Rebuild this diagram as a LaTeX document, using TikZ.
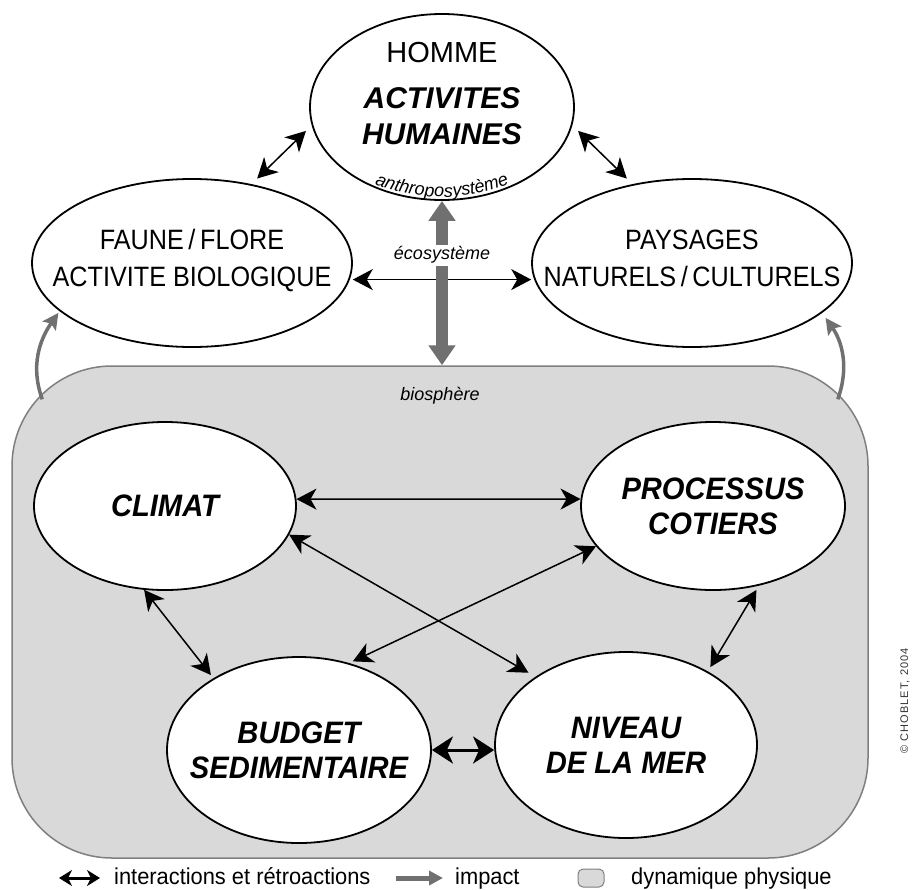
\documentclass[tikz,border=0pt]{standalone}
\usepackage{fontspec}
\setmainfont{Liberation Sans}
\newfontfamily\NarrowFont[FakeStretch=0.9]{Liberation Sans}
\newfontfamily\CondFont[FakeStretch=0.94]{Liberation Sans}
\newfontfamily\LegendFont[FakeStretch=0.95]{Liberation Sans}
\newfontfamily\CopyFont[LetterSpace=10]{Liberation Sans}
\usetikzlibrary{positioning,shapes.geometric,arrows.meta,decorations.text}
\definecolor{BioGray}{HTML}{D9D9D9}
\definecolor{ImpactGray}{HTML}{707070}
\definecolor{BorderGray}{HTML}{7F7F7F}
\tikzstyle{EllipseNode}=[ellipse, draw=black, line width=1.8pt, fill=white, inner sep=-50pt, align=center]
\tikzstyle{OuterText}=[font=\NarrowFont\fontsize{28}{37}\selectfont]
\tikzstyle{InnerText}=[font=\CondFont\fontsize{31}{35}\selectfont\bfseries\itshape]
\tikzstyle{SmallItalic}=[font=\fontsize{18}{20}\selectfont\itshape]
\tikzstyle{InterArrow}=[line width=1.5pt, >={Stealth[length=20pt,width=21pt,inset=6pt]}, <->]
\tikzstyle{ThickInterArrow}=[line width=3pt, >={Stealth[length=21pt,width=27pt,inset=6pt]}, <->]
\tikzstyle{ImpactArrow}=[draw=ImpactGray, line width=12pt, >={Triangle[length=20pt,width=26pt]}]
\tikzstyle{CurveArrow}=[draw=ImpactGray, line width=3.5pt, ->, >={Stealth[length=16pt,width=16pt,inset=3pt]}]
\tikzstyle{LegendText}=[font=\LegendFont\fontsize{23}{23}\selectfont, anchor=base west, inner sep=0pt]

\begin{document}
\begin{tikzpicture}[x=1pt, y=1pt]

    \useasboundingbox (0,0) rectangle (920,-889);

    % biosphere (dynamique physique)
    \node (Biosphere) [draw=BorderGray, line width=1.5pt, fill=BioGray, rounded corners=100pt, minimum width=856pt, minimum height=492pt] at (440,-612) {};
    \node (BioLabel) [SmallItalic, below=18pt of Biosphere.north] {biosphère};

    \node (Climat) [EllipseNode, InnerText, minimum width=262pt, minimum height=168pt] at (165,-506) {CLIMAT};
    \node (Processus) [EllipseNode, InnerText, minimum width=264pt, minimum height=168pt] at (713,-506) {PROCESSUS\\COTIERS};
    \node (Budget) [EllipseNode, InnerText, minimum width=264pt, minimum height=186pt] at (299,-750) {BUDGET\\SEDIMENTAIRE};
    \node (Niveau) [EllipseNode, InnerText, minimum width=262pt, minimum height=186pt] at (626,-745) {NIVEAU\\DE LA MER};

    % anthroposysteme / ecosysteme
    \node (Homme) [EllipseNode, minimum width=264pt, minimum height=186pt, text depth=28pt, font=\fontsize{30}{36}\selectfont] at (442,-107)
    {{\fontsize{29}{36}\selectfont HOMME}\\[10pt]{\bfseries\itshape ACTIVITES}\\{\bfseries\itshape HUMAINES}};
    \node (FauneFlore) [EllipseNode, OuterText, minimum width=320pt, minimum height=168pt, text depth=10pt] at (192,-263) {FAUNE\,/\,FLORE\\ACTIVITE BIOLOGIQUE};
    \node (Paysages) [EllipseNode, OuterText, minimum width=320pt, minimum height=168pt, text depth=10pt] at (692,-263) {PAYSAGES\\NATURELS\,/\,CULTURELS};

    \path[decorate, decoration={text along path, text align=center, text={|\fontsize{18}{20}\selectfont\itshape|anthroposystème}}]
      ([shift={(235:130 and 90)}]Homme.center) arc[start angle=235, end angle=305, x radius=130, y radius=90];

    \draw[InterArrow, shorten <=8pt, shorten >=8pt] (FauneFlore.53) -- (Homme.188);
    \draw[InterArrow, shorten <=8pt, shorten >=8pt] (Homme.-8) -- (Paysages.127);
    \draw[InterArrow, shorten <=3pt, shorten >=3pt] (FauneFlore.-6) -- (Paysages.186);
    \draw[ImpactArrow, <->] (Homme.south) -- (Homme.south |- Biosphere.north)
      node (EcoLabel) [pos=0.33, fill=white, SmallItalic, inner sep=2pt] {écosystème};

    \coordinate (BioCornerL) at ([shift={(31,-34)}]Biosphere.north west);
    \coordinate (BioCornerR) at ([shift={(-31,-34)}]Biosphere.north east);
    \draw[CurveArrow, shorten >=2pt] (BioCornerL) to[out=110, in=235] (FauneFlore.200);
    \draw[CurveArrow, shorten >=6pt] (BioCornerR) to[out=70, in=-55] (Paysages.-21);

    \draw[InterArrow] (Climat.3) -- (Processus.177);
    \draw[InterArrow, shorten >=8pt] (Climat.-13) -- (Niveau.143);
    \draw[InterArrow, shorten >=4pt] (Processus.199) -- (Budget.60);
    \draw[InterArrow, shorten >=4pt] (Climat.256) -- (Budget.140);
    \draw[InterArrow, shorten <=5pt, shorten >=5pt] (Processus.-60) -- (Niveau.42);
    \draw[ThickInterArrow] (Budget.east) -- (Niveau.west |- Budget.east);

    % legend
    \coordinate (LegInterA) at (59,-878);
    \coordinate (LegInterB) at (100,-878);
    \draw[line width=3pt, >={Stealth[length=13pt,width=16pt,inset=4pt]}, <->] (LegInterA) -- (LegInterB);
    \node (LegInterText) [LegendText] at (114,-884) {interactions et rétroactions};
    \coordinate (LegImpactA) at (396,-878);
    \coordinate (LegImpactB) at (443,-878);
    \draw[draw=ImpactGray, line width=5pt, >={Triangle[length=14pt,width=14pt]}, ->] (LegImpactA) -- (LegImpactB);
    \node (LegImpactText) [LegendText] at (455,-884) {impact};
    \node (LegBioBox) [draw=BorderGray, fill=BioGray, line width=1pt, rounded corners=5pt, minimum width=26pt, minimum height=18pt] at (591,-878) {};
    \node (LegBioText) [LegendText] at (631,-884) {dynamique physique};

    \node (Copyright) [rotate=90, font=\CopyFont\fontsize{11}{11}\selectfont, text=black!80] at (905,-701) {© CHOBLET, 2004};

\end{tikzpicture}
\end{document}
